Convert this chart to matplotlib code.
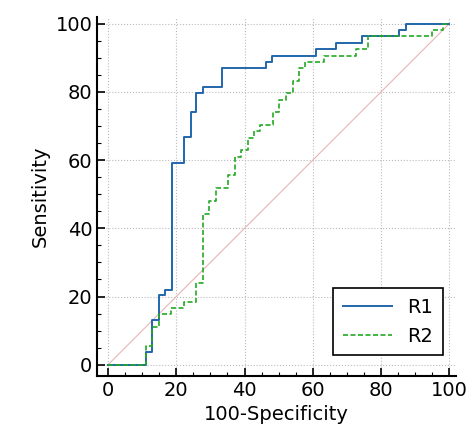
import matplotlib
matplotlib.use("Agg")
import matplotlib.pyplot as plt
from matplotlib.ticker import MultipleLocator

r1_x = [0, 11, 12.9, 14.9, 16.7, 18.6, 22.2, 24.2, 25.8, 27.7, 33.5, 46.4, 48.2, 61, 66.7, 74.4, 85.3, 87.3, 100]
r1_y = [0, 3.7, 13.1, 20.3, 22, 59.3, 66.7, 74, 79.6, 81.5, 87, 88.9, 90.7, 92.6, 94.4, 96.3, 98.1, 100, 100]
r2_x = [0, 11, 12.9, 14.9, 18.5, 22.3, 25.9, 27.7, 29.6, 31.5, 35.3, 37.2, 39, 40.9, 42.8, 44.6, 48.3, 50.2, 52.2, 54.1, 55.9, 57.7, 63.2, 72.6, 76.3, 94.9, 98.3, 100]
r2_y = [0, 5.5, 11, 14.8, 16.6, 18.5, 24, 44.3, 48, 51.8, 55.5, 61, 63, 66.6, 68.5, 70.4, 74, 77.7, 79.6, 83.3, 87, 88.9, 90.7, 92.6, 96.3, 98.1, 100, 100]

fig = plt.figure(figsize=(4.74, 4.47), dpi=100)
ax = fig.add_axes([0.205, 0.159, 0.757, 0.803])
ax.plot([0, 100], [0, 100], color="#e8b4b8", lw=0.8)
ax.step(r1_x, r1_y, where="post", color="#2166ac", lw=1.4, label="R1")
ax.step(r2_x, r2_y, where="post", color="#22aa22", lw=1.2, ls=(0, (3, 1.5)), label="R2")
ax.set_xlim(-3.2, 102)
ax.set_ylim(-3.3, 102)
ax.xaxis.set_major_locator(MultipleLocator(20))
ax.yaxis.set_major_locator(MultipleLocator(20))
ax.xaxis.set_minor_locator(MultipleLocator(5))
ax.yaxis.set_minor_locator(MultipleLocator(5))
ax.tick_params(which="major", direction="in", length=6, width=1.2, labelsize=14)
ax.tick_params(which="minor", direction="in", length=3, width=0.8)
for s in ["top", "right"]:
    ax.spines[s].set_visible(False)
for s in ["left", "bottom"]:
    ax.spines[s].set_linewidth(1.5)
ax.grid(True, which="major", ls=":", color="#bbbbbb", lw=0.8)
ax.set_xlabel("100-Specificity", fontsize=14)
ax.set_ylabel("Sensitivity", fontsize=14)
leg = ax.legend(loc="lower right", fontsize=14, fancybox=False, edgecolor="black",
                framealpha=1, handlelength=2.5, borderpad=0.5, bbox_to_anchor=(0.99, 0.03))
leg.get_frame().set_linewidth(1.2)
fig.savefig("out.png", dpi=100)
